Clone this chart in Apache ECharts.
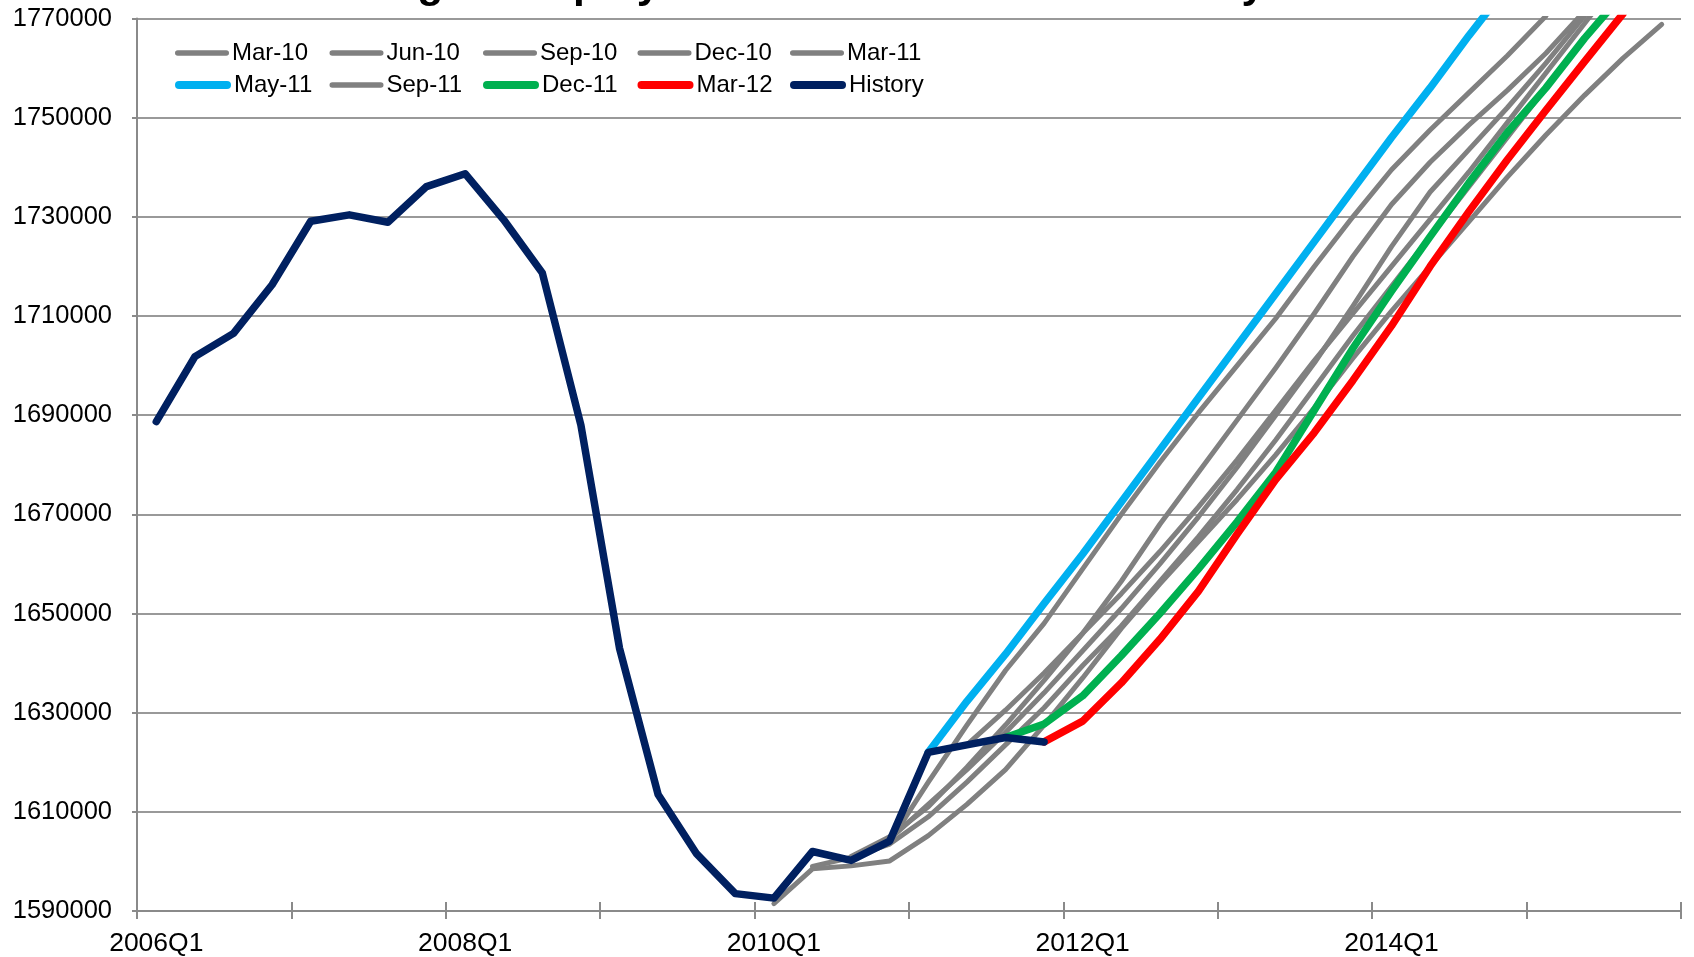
<!DOCTYPE html>
<html>
<head>
<meta charset="utf-8">
<title>Oregon Employment Forecasts</title>
<script src="https://cdn.jsdelivr.net/npm/echarts@6/dist/echarts.min.js"></script>
<style>
  html, body { margin: 0; padding: 0; background: #ffffff; }
  #chart { width: 1694px; height: 957px; }
</style>
</head>
<body>
<div id="chart"></div>
<script>
// Quarterly categories shown on the x axis
const quarters = [
  '2006Q1','2006Q2','2006Q3','2006Q4','2007Q1','2007Q2','2007Q3','2007Q4',
  '2008Q1','2008Q2','2008Q3','2008Q4','2009Q1','2009Q2','2009Q3','2009Q4',
  '2010Q1','2010Q2','2010Q3','2010Q4','2011Q1','2011Q2','2011Q3','2011Q4',
  '2012Q1','2012Q2','2012Q3','2012Q4','2013Q1','2013Q2','2013Q3','2013Q4',
  '2014Q1','2014Q2','2014Q3','2014Q4','2015Q1','2015Q2','2015Q3','2015Q4'
];

// Actual employment, 2006Q1 - 2011Q4
const history = [
  1688700, 1701800, 1706500, 1716300, 1729100, 1730400, 1728900, 1736100,
  1738700, 1729400, 1718700, 1688000, 1643000, 1613500, 1601500, 1593500,
  1592600, 1602000, 1600200, 1604100, 1622000, 1623500, 1625000, 1624100
];

// Forecast vintages: first quarter of each path and its values
const mar10Start = '2010Q1';
const mar10 = [1591500, 1598500, 1599100, 1600100, 1605200, 1611500, 1618500, 1627500,
  1637000, 1647000, 1656000, 1664500, 1673000, 1682000, 1691500, 1701500,
  1711000, 1720000, 1729000, 1738000, 1746500, 1754500, 1762000, 1768800];

const jun10Start = '2010Q2';
const jun10 = [1599000, 1600800, 1603500, 1609000, 1616000, 1623500, 1631000, 1639500,
  1647500, 1656500, 1665500, 1675000, 1685000, 1695500, 1706000, 1716000,
  1726000, 1736000, 1746000, 1756000, 1766000, 1775500];

const sep10Start = '2010Q3';
const sep10 = [1600500, 1604500, 1611500, 1618500, 1626000, 1634000, 1642500, 1651000,
  1660000, 1669500, 1679500, 1690000, 1700500, 1712000, 1724000, 1735000,
  1743500, 1752000, 1761000, 1770500];

const dec10Start = '2010Q3';
const dec10 = [1601000, 1605000, 1611000, 1619000, 1627500, 1636500, 1646000, 1656500,
  1668000, 1678500, 1689000, 1699500, 1710500, 1722000, 1732500, 1741000,
  1748500, 1755500, 1763000, 1771500];

const mar11Start = '2010Q4';
const mar11 = [1604000, 1616000, 1627500, 1638500, 1648000, 1659000, 1670000, 1680500,
  1690500, 1700000, 1709500, 1720000, 1730000, 1739500, 1747500, 1755000,
  1762500, 1770500];

const may11Start = '2011Q1';
const may11 = [1622000, 1632300, 1641800, 1652000, 1662000, 1672500, 1683000, 1693500,
  1704000, 1714500, 1725000, 1735500, 1746000, 1756000, 1766500, 1776500];

const sep11Start = '2011Q2';
const sep11 = [1623500, 1630500, 1638000, 1646000, 1654000, 1662500, 1671500, 1681000,
  1691000, 1701000, 1710500, 1720000, 1729500, 1739000, 1749000, 1759000,
  1769000, 1779000];

const dec11Start = '2011Q3';
const dec11 = [1625000, 1627700, 1633400, 1641500, 1650000, 1659000, 1668500, 1678500,
  1691000, 1703500, 1715000, 1726000, 1736800, 1747000, 1756000, 1766000, 1775000];

const mar12Start = '2011Q4';
const mar12 = [1624100, 1628300, 1636000, 1644800, 1654500, 1666000, 1677000, 1686500,
  1697000, 1708000, 1720000, 1731000, 1741500, 1751500, 1761300, 1771000];

// Y axis scale
const yMin = 1590000;
const yMax = 1770000;
const yStep = 20000;

// Place a path on the full quarter range, leaving other quarters empty
function onQuarters(start, values) {
  const s = quarters.indexOf(start);
  return quarters.map((q, i) => (i >= s && i - s < values.length) ? values[i - s] : null);
}

const FONT = "'Liberation Sans', Arial, sans-serif";
const GREY = '#808080';
const GREY_W = 5;
const BOLD_W = 7.5;

const seriesDefs = [
  { name: 'Mar-10', data: onQuarters(mar10Start, mar10), color: GREY, width: GREY_W },
  { name: 'Jun-10', data: onQuarters(jun10Start, jun10), color: GREY, width: GREY_W },
  { name: 'Sep-10', data: onQuarters(sep10Start, sep10), color: GREY, width: GREY_W },
  { name: 'Dec-10', data: onQuarters(dec10Start, dec10), color: GREY, width: GREY_W },
  { name: 'Mar-11', data: onQuarters(mar11Start, mar11), color: GREY, width: GREY_W },
  { name: 'May-11', data: onQuarters(may11Start, may11), color: '#00B0F0', width: BOLD_W },
  { name: 'Sep-11', data: onQuarters(sep11Start, sep11), color: GREY, width: GREY_W },
  { name: 'Dec-11', data: onQuarters(dec11Start, dec11), color: '#00B050', width: BOLD_W },
  { name: 'Mar-12', data: onQuarters(mar12Start, mar12), color: '#FF0000', width: BOLD_W },
  { name: 'History', data: history, color: '#002060', width: BOLD_W }
];

// Legend: two rows of five, fixed columns
const legendCols = [175, 329.5, 483, 637.5, 790];
const legendRows = [41, 73];
const thinIcon = 'path://M2.75,0H51.25A2.75,2.75,0,0,1,51.25,5.5H2.75A2.75,2.75,0,0,1,2.75,0Z';
const thickIcon = 'path://M4,0H52A4,4,0,0,1,52,8H4A4,4,0,0,1,4,0Z';

const legends = seriesDefs.map((s, k) => {
  const thick = s.width > GREY_W;
  return {
    data: [{ name: s.name, icon: thick ? thickIcon : thinIcon }],
    left: legendCols[k % 5],
    top: legendRows[Math.floor(k / 5)],
    padding: 0,
    itemGap: 0,
    itemWidth: thick ? 56 : 54,
    itemHeight: thick ? 8 : 5.5,
    selectedMode: false,
    textStyle: { fontFamily: FONT, fontSize: 24, color: '#000000', padding: [0, 0, 0, -2] }
  };
});

const tickStyle = { color: '#8a8a8a', width: 2 };

const option = {
  animation: false,
  backgroundColor: '#ffffff',
  grid: { left: 137, right: 13, top: 18.5, bottom: 45, containLabel: false },
  legend: legends,
  graphic: [{
    type: 'text',
    x: 344,
    y: -14.5,
    silent: true,
    style: {
      text: 'Oregon Employment Forecasts and Recovery',
      font: "bold 42.5px 'Liberation Sans', Arial, sans-serif",
      fill: '#000000',
      align: 'left',
      verticalAlign: 'middle'
    }
  }],
  xAxis: [{
    type: 'category',
    data: quarters,
    boundaryGap: true,
    axisLine: { show: true, lineStyle: tickStyle },
    axisTick: { show: true, interval: 3, length: 8, lineStyle: tickStyle },
    axisLabel: { interval: 7, margin: 19, fontFamily: FONT, fontSize: 26.5, color: '#000000' },
    splitLine: { show: false }
  }, {
    type: 'category',
    data: quarters,
    boundaryGap: true,
    position: 'bottom',
    axisLine: { show: false },
    axisTick: { show: true, inside: true, interval: 3, length: 9, lineStyle: tickStyle },
    axisLabel: { show: false },
    splitLine: { show: false }
  }],
  yAxis: {
    type: 'value',
    min: yMin,
    max: yMax,
    interval: yStep,
    axisLine: { show: true, lineStyle: tickStyle },
    axisTick: { show: true, length: 5, lineStyle: tickStyle },
    axisLabel: {
      margin: 25,
      fontFamily: FONT,
      fontSize: 25.5,
      color: '#000000',
      formatter: v => String(v)
    },
    splitLine: { show: true, lineStyle: { color: '#999999', width: 2 } }
  },
  series: seriesDefs.map(s => ({
    name: s.name,
    type: 'line',
    xAxisIndex: 0,
    data: s.data,
    symbol: 'none',
    showSymbol: false,
    connectNulls: false,
    clip: true,
    color: s.color,
    itemStyle: { color: s.color },
    lineStyle: { color: s.color, width: s.width, cap: 'round', join: 'round' },
    emphasis: { disabled: true }
  }))
};

const chart = echarts.init(document.getElementById('chart'), null, { renderer: 'canvas' });
chart.setOption(option);
</script>
</body>
</html>
